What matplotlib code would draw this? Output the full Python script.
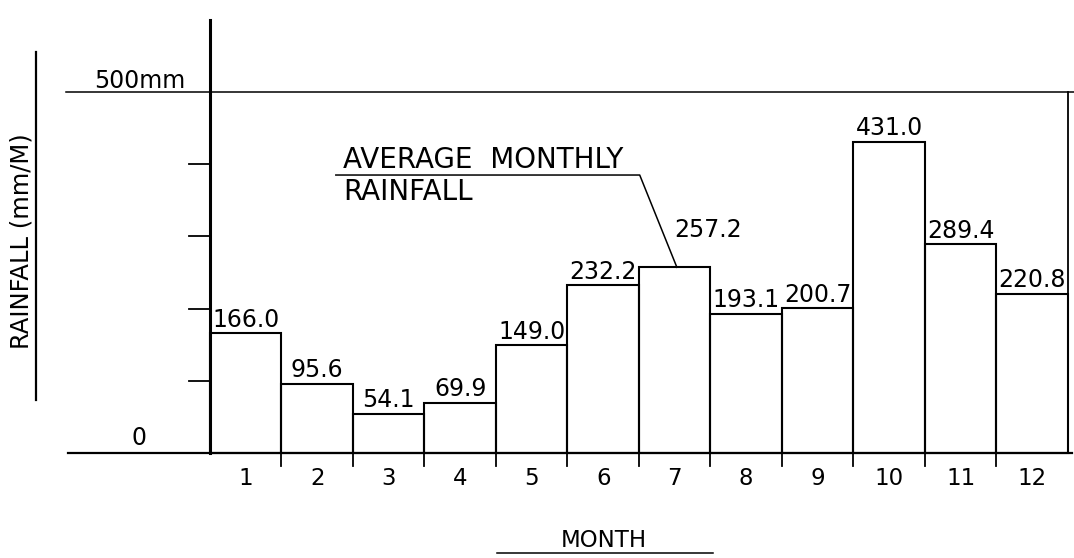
# Average monthly rainfall bar chart (drawing style)
import numpy as np
import matplotlib.pyplot as plt

months = [str(m) for m in range(1, 13)]
rainfall = [166.0, 95.6, 54.1, 69.9, 149.0, 232.2, 257.2, 193.1, 200.7, 431.0, 289.4, 220.8]
y_ticks = [100, 200, 300, 400]
y_top = 500

plt.rcParams['font.family'] = ['DejaVu Sans']

fig = plt.figure(figsize=(10.74, 5.58), dpi=100)
ax = fig.add_axes([0, 0, 1, 1])
ax.set_xlim(-2.937, 12.084)
ax.set_ylim(-145.4, 627.4)
ax.axis('off')

k = 'black'
x = np.arange(len(rainfall)) + 0.5

# bars
ax.bar(x, rainfall, width=1.0, fill=False, edgecolor=k, linewidth=1.5)

# value labels (month 7 label pushed aside by the leader line)
shift = {6: (0.47, 33)}
for i, (xi, v) in enumerate(zip(x, rainfall)):
    dx, dy = shift.get(i, (0, 0))
    ax.text(xi + dx, v + 9 + dy, f"{v:.1f}", ha='center', va='baseline', fontsize=17)

# axes lines
ax.plot([0, 0], [0, 600], color=k, lw=2.2)
ax.plot([-1.99, 12.05], [0, 0], color=k, lw=1.6)
ax.plot([-2.02, 12.084], [y_top, y_top], color=k, lw=1.1)
ax.plot([12, 12], [0, y_top], color=k, lw=1.3)

for t in y_ticks:
    ax.plot([-0.3, 0], [t, t], color=k, lw=1.3)
for i in range(1, 12):
    ax.plot([i, i], [0, -18], color=k, lw=1.3)

for xi, m in zip(x, months):
    ax.text(xi, -35.5, m, ha='center', va='center', fontsize=16.5)

ax.text(-0.99, 11, "0", ha='center', va='baseline', fontsize=17)
ax.text(-1.62, 505.5, "500mm", ha='left', va='baseline', fontsize=17)

# annotation
ax.plot([1.76, 6.01, 6.53], [385, 385, 257.2], color=k, lw=1.1)
ax.text(1.86, 394.7, "AVERAGE  MONTHLY", ha='left', va='baseline', fontsize=20)
ax.text(1.86, 350, "RAINFALL", ha='left', va='baseline', fontsize=20)

# axis titles
ax.text(-2.63, 294, "RAINFALL (mm/M)", rotation=90, ha='center', va='center', fontsize=17.5)
ax.plot([-2.43, -2.43], [73, 555], color=k, lw=1.6)
ax.text(5.51, -120.5, "MONTH", ha='center', va='center', fontsize=16.5)
ax.plot([4.01, 7.03], [-138.5, -138.5], color=k, lw=1.1)

fig.savefig("out.png", dpi=100)
